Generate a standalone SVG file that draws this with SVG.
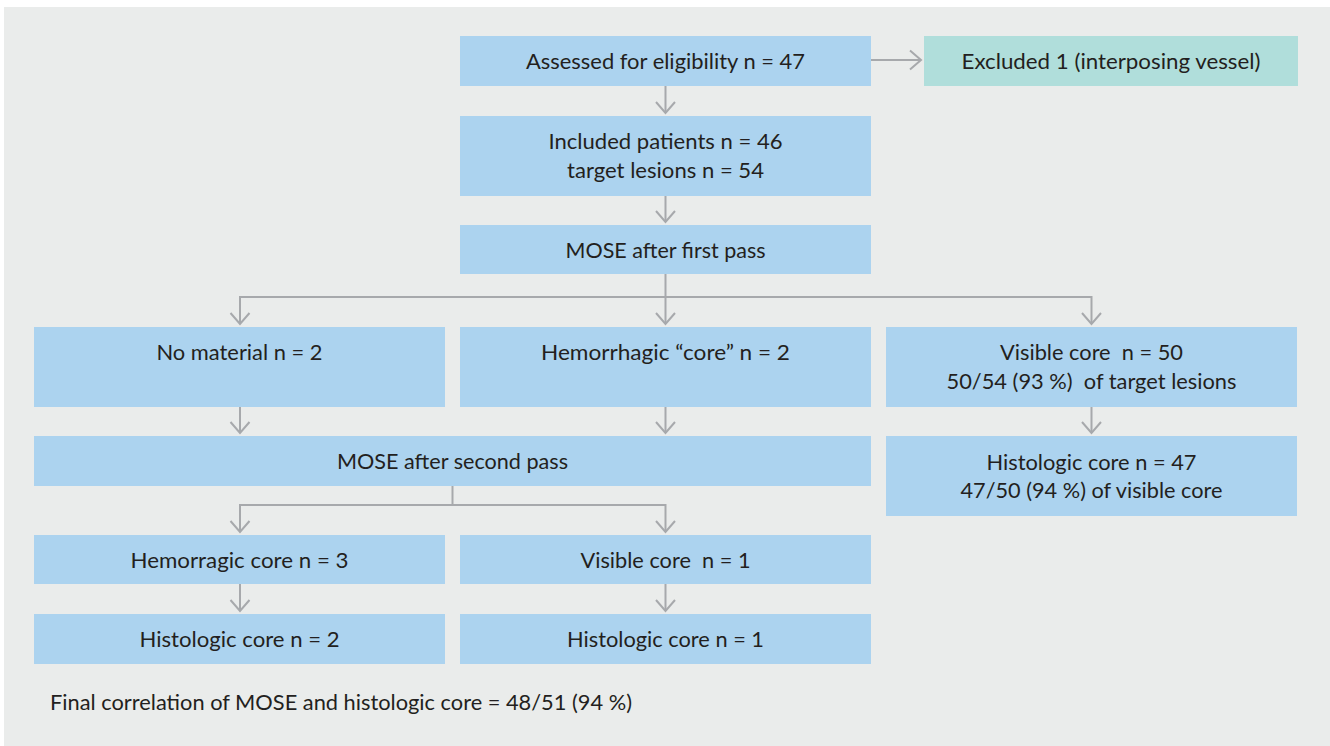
<svg xmlns="http://www.w3.org/2000/svg" width="1330" height="746" viewBox="0 0 1330 746">
<style>
.bg{fill:#eaeceb}
.box{fill:#acd3ef}
.exc{fill:#b0dedb}
text{font-family:Lato,"Open Sans","Liberation Sans",sans-serif;font-size:22px;fill:#231f20;text-anchor:middle;white-space:pre}
.left{text-anchor:start}
.con{fill:none;stroke:#a7a9ac;stroke-width:2}
</style>
<defs>
<marker id="arr" markerUnits="userSpaceOnUse" markerWidth="24" markerHeight="24" viewBox="-13 -12 16 24" refX="0" refY="0" orient="auto">
<path d="M-11,-9.5 L0,0 L-11,9.5" fill="none" stroke="#a7a9ac" stroke-width="2"/>
</marker>
</defs>
<rect class="bg" x="4" y="7" width="1326" height="739"/>
<g id="connectors">
<path class="con" d="M665.5,86 V113" marker-end="url(#arr)"/>
<path class="con" d="M871,60 H921" marker-end="url(#arr)"/>
<path class="con" d="M665.5,196 V222" marker-end="url(#arr)"/>
<path class="con" d="M665.5,274 V324" marker-end="url(#arr)"/>
<path class="con" d="M665.5,297 H240 V324" marker-end="url(#arr)"/>
<path class="con" d="M665.5,297 H1091.5 V324" marker-end="url(#arr)"/>
<path class="con" d="M240,407 V433" marker-end="url(#arr)"/>
<path class="con" d="M665.5,407 V433" marker-end="url(#arr)"/>
<path class="con" d="M1091.5,407 V433" marker-end="url(#arr)"/>
<path class="con" d="M452.5,486 V505 H240 V532" marker-end="url(#arr)"/>
<path class="con" d="M452.5,505 H665.5 V532" marker-end="url(#arr)"/>
<path class="con" d="M240,584 V611" marker-end="url(#arr)"/>
<path class="con" d="M665.5,584 V611" marker-end="url(#arr)"/>
</g>
<g id="assessed"><rect class="box" x="460" y="36" width="411" height="50"/><text x="665.5" y="69" textLength="279" lengthAdjust="spacingAndGlyphs">Assessed for eligibility n = 47</text></g>
<g id="excluded"><rect class="exc" x="924" y="36" width="374" height="50"/><text x="1111" y="69" textLength="299" lengthAdjust="spacingAndGlyphs">Excluded 1 (interposing vessel)</text></g>
<g id="included"><rect class="box" x="460" y="116" width="411" height="80"/><text x="665.5" y="149" textLength="234" lengthAdjust="spacingAndGlyphs">Included patients n = 46</text><text x="665.5" y="177.5" textLength="197" lengthAdjust="spacingAndGlyphs">target lesions n = 54</text></g>
<g id="mose1"><rect class="box" x="460" y="225" width="411" height="49"/><text x="665.5" y="257.5" textLength="200" lengthAdjust="spacingAndGlyphs">MOSE after first pass</text></g>
<g id="nomaterial"><rect class="box" x="34" y="327" width="411" height="80"/><text x="239.5" y="360" textLength="166" lengthAdjust="spacingAndGlyphs">No material n = 2</text></g>
<g id="hemorrhagic"><rect class="box" x="460" y="327" width="411" height="80"/><text x="665.5" y="360" textLength="249" lengthAdjust="spacingAndGlyphs">Hemorrhagic “core” n = 2</text></g>
<g id="visible50"><rect class="box" x="886" y="327" width="411" height="80"/><text x="1091.5" y="360" textLength="183" lengthAdjust="spacingAndGlyphs">Visible core  n = 50</text><text x="1091.5" y="389" textLength="290" lengthAdjust="spacingAndGlyphs">50/54 (93 %)  of target lesions</text></g>
<g id="mose2"><rect class="box" x="34" y="436" width="837" height="50"/><text x="452.5" y="468.5" textLength="231" lengthAdjust="spacingAndGlyphs">MOSE after second pass</text></g>
<g id="histo47"><rect class="box" x="886" y="436" width="411" height="80"/><text x="1091.5" y="469.5" textLength="210" lengthAdjust="spacingAndGlyphs">Histologic core n = 47</text><text x="1091.5" y="498" textLength="262" lengthAdjust="spacingAndGlyphs">47/50 (94 %) of visible core</text></g>
<g id="hemorragic3"><rect class="box" x="34" y="535" width="411" height="49"/><text x="239.5" y="567.5" textLength="218" lengthAdjust="spacingAndGlyphs">Hemorragic core n = 3</text></g>
<g id="visible1"><rect class="box" x="460" y="535" width="411" height="49"/><text x="665.5" y="567.5" textLength="170" lengthAdjust="spacingAndGlyphs">Visible core  n = 1</text></g>
<g id="histo2"><rect class="box" x="34" y="614" width="411" height="50"/><text x="239.5" y="646.5" textLength="200" lengthAdjust="spacingAndGlyphs">Histologic core n = 2</text></g>
<g id="histo1"><rect class="box" x="460" y="614" width="411" height="50"/><text x="665.5" y="646.5" textLength="197" lengthAdjust="spacingAndGlyphs">Histologic core n = 1</text></g>
<g id="footer"><text class="left" x="50" y="710" textLength="582" lengthAdjust="spacingAndGlyphs">Final correlation of MOSE and histologic core = 48/51 (94 %)</text></g>
</svg>
